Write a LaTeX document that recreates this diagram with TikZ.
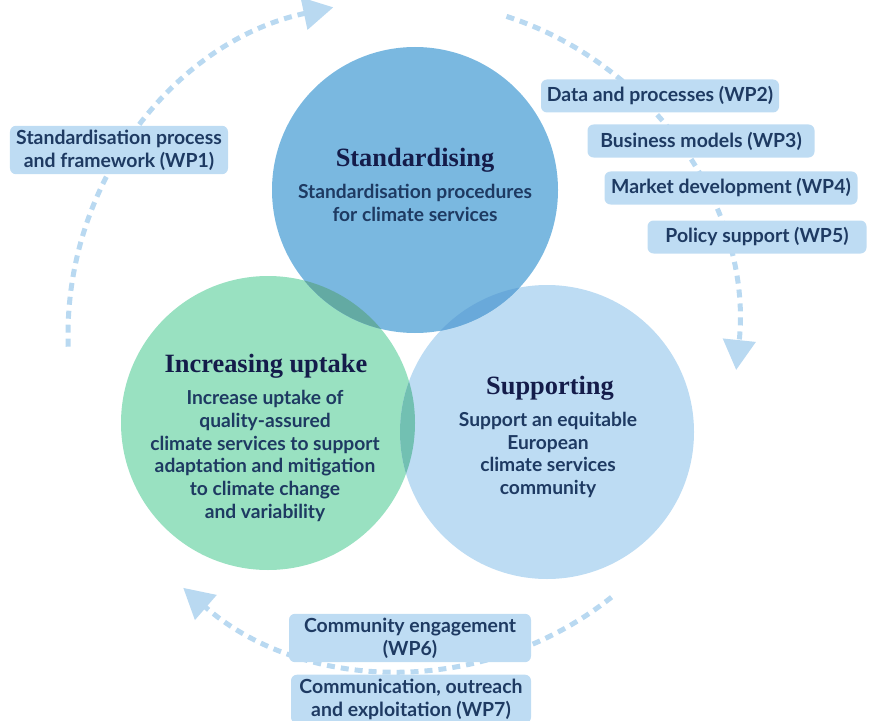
\documentclass[tikz,border=0pt]{standalone}
\usepackage{fontspec}
\setmainfont{Lato}
\newfontfamily\headfont{Liberation Serif}
\usetikzlibrary{arrows.meta}

\definecolor{stdblue}{HTML}{7AB8E0}
\definecolor{incgreen}{HTML}{99E1C1}
\definecolor{supblue}{HTML}{BDDCF3}
\definecolor{stdinc}{HTML}{63AAA3}
\definecolor{stdsup}{HTML}{69A9DA}
\definecolor{incsup}{HTML}{72C0B2}
\definecolor{boxblue}{HTML}{BEDCF3}
\definecolor{arrowblue}{HTML}{B9D9F1}
\definecolor{textblue}{HTML}{1E3A62}
\definecolor{headnavy}{HTML}{141C4A}

\tikzset{
  wpbox/.style={fill=boxblue, rounded corners=6bp, text=textblue, align=center,
    font=\bfseries\fontsize{19.5}{23}\selectfont, inner xsep=4bp, inner ysep=4bp,
    minimum height=33bp},
  cycarrow/.style={draw=arrowblue, line width=5bp, dash pattern=on 8bp off 6bp,
    -{Triangle[length=30bp,width=32bp]}},
  headtxt/.style={text=headnavy, font=\headfont\bfseries\fontsize{26.5}{30}\selectfont},
  bodytxt/.style={text=textblue, align=center, font=\bfseries\fontsize{19.3}{23}\selectfont}
}

\begin{document}
\begin{tikzpicture}[x=1bp, y=-1bp]
\useasboundingbox (0,0) rectangle (873,721);

% centres
\coordinate (cyc) at (403,335);
\coordinate (std) at (415,190);
\coordinate (inc) at (268,423);
\coordinate (sup) at (547,432);

% the cycle
\draw[cycarrow] ([shift={(178:335)}]cyc) arc[start angle=178, end angle=258, radius=335];
\draw[cycarrow] ([shift={(288:335)}]cyc) arc[start angle=288, end angle=366, radius=335];
\draw[cycarrow] ([shift={(51.5:335)}]cyc) arc[start angle=51.5, end angle=131, radius=335];

% circles
\fill[incgreen] (inc) circle[radius=147];
\fill[supblue] (sup) circle[radius=147];
\fill[stdblue] (std) circle[radius=143];
\begin{scope}
\clip (inc) circle[radius=147];
\fill[incsup] (sup) circle[radius=147];
\fill[stdinc] (std) circle[radius=143];
\end{scope}
\begin{scope}
\clip (sup) circle[radius=147];
\fill[stdsup] (std) circle[radius=143];
\end{scope}

% circle texts
\node[headtxt] (stdhead) at (415,160) {Standardising};
\node[bodytxt] (stdbody) at (415,203) {Standardisation procedures\\for climate services};
\node[headtxt] (inchead) at (266,366) {Increasing uptake};
\node[bodytxt] (incbody) at (265,456) {Increase uptake of\\quality-assured\\climate services to support\\adaptation and mitigation\\to climate change\\and variability};
\node[headtxt] (suphead) at (550,388) {Supporting};
\node[bodytxt] (supbody) at (548,455) {Support an equitable\\European\\climate services\\community};

% work packages
\node[wpbox, minimum width=218bp] (wp1) at (119,150) {Standardisation process\\and framework (WP1)};
\node[wpbox, minimum width=238bp] (wp2) at (660,96) {Data and processes (WP2)};
\node[wpbox, minimum width=227bp] (wp3) at (701,141) {Business models (WP3)};
\node[wpbox, minimum width=253bp] (wp4) at (731,188) {Market development (WP4)};
\node[wpbox, minimum width=219bp] (wp5) at (757,237) {Policy support (WP5)};
\node[wpbox, minimum width=242bp] (wp6) at (410,638) {Community engagement\\(WP6)};
\node[wpbox, minimum width=240bp] (wp7) at (411,699) {Communication, outreach\\and exploitation (WP7)};

\end{tikzpicture}
\end{document}
